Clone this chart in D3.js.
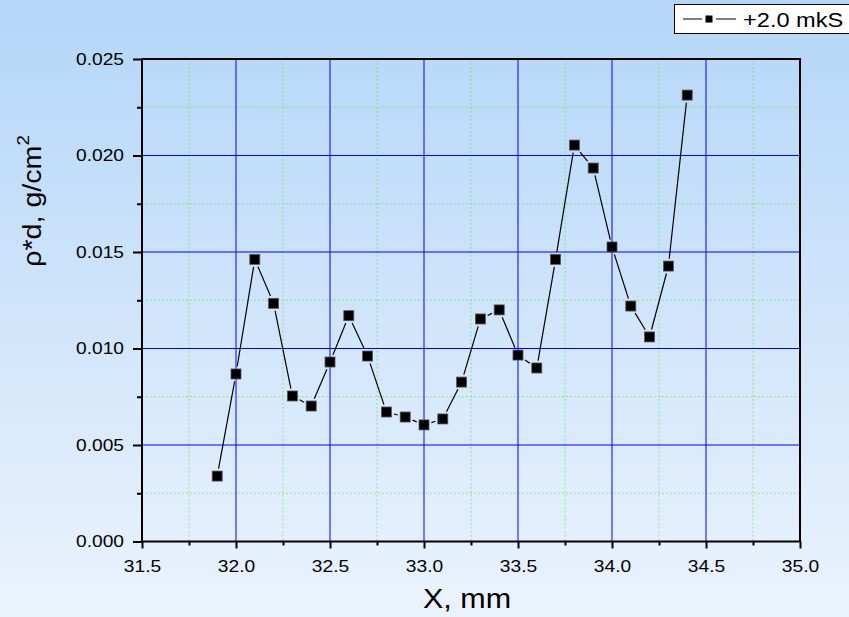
<!DOCTYPE html>
<html><head><meta charset="utf-8">
<script src="https://cdn.jsdelivr.net/npm/d3@7"></script>
<style>body{margin:0;}svg{display:block;font-family:Arial,"Liberation Sans",sans-serif;}</style>
</head><body>
<svg id="c" width="849" height="617"></svg>
<script>
const xValues = [31.9,32.0,32.1,32.2,32.3,32.4,32.5,32.6,32.7,32.8,32.9,33.0,33.1,33.2,33.3,33.4,33.5,33.6,33.7,33.8,33.9,34.0,34.1,34.2,34.3,34.4];
const yValues = [0.00339,0.00868,0.01462,0.01234,0.00754,0.00702,0.0093,0.01170,0.00961,0.00671,0.00645,0.00604,0.00635,0.00826,0.01153,0.0120,0.00966,0.00899,0.01462,0.02054,0.01935,0.01526,0.0122,0.0106,0.01427,0.02313];
const xTicks = [31.5,32.0,32.5,33.0,33.5,34.0,34.5,35.0];
const yTicks = [0.000,0.005,0.010,0.015,0.020,0.025];
const seriesName = "+2.0 mkS";

const svg = d3.select("#c");
const W = 849, H = 617;
const SX = 1.13; // horizontal text stretch seen in reference
const defs = svg.append("defs");
const g = defs.append("linearGradient").attr("id","bg").attr("x1",0).attr("y1",0).attr("x2",0).attr("y2",1);
g.append("stop").attr("offset","0%").attr("stop-color","#b4d6f8");
g.append("stop").attr("offset","100%").attr("stop-color","#ebf3fd");
svg.append("rect").attr("width",W).attr("height",H).attr("fill","url(#bg)");

const L=142, R=800, T=59, B=541.5;
const x = d3.scaleLinear().domain([31.5,35.0]).range([L,R]);
const y = d3.scaleLinear().domain([0,0.025]).range([B,T]);

// minor grid
const xMinor = d3.range(0,7).map(i=>31.75+0.5*i);
const yMinor = d3.range(0,5).map(i=>0.0025+0.005*i);
svg.append("g").selectAll("line").data(xMinor).join("line")
  .attr("x1",d=>x(d)).attr("x2",d=>x(d)).attr("y1",T).attr("y2",B)
  .attr("stroke","#77e077").attr("stroke-width",1).attr("stroke-dasharray","1.5,2.5");
svg.append("g").selectAll("line").data(yMinor).join("line")
  .attr("y1",d=>y(d)).attr("y2",d=>y(d)).attr("x1",L).attr("x2",R)
  .attr("stroke","#77e077").attr("stroke-width",1).attr("stroke-dasharray","1.5,2.5");
// major grid
svg.append("g").selectAll("line").data(xTicks.slice(1,-1)).join("line")
  .attr("x1",d=>x(d)).attr("x2",d=>x(d)).attr("y1",T).attr("y2",B)
  .attr("stroke","#0000ff").attr("stroke-width",1);
svg.append("g").selectAll("line").data(yTicks.slice(1,-1)).join("line")
  .attr("y1",d=>y(d)).attr("y2",d=>y(d)).attr("x1",L).attr("x2",R)
  .attr("stroke","#0000ff").attr("stroke-width",1);

// axes
const xAxis = d3.axisBottom(x).tickValues(xTicks).tickFormat(d3.format(".1f")).tickSize(7).tickPadding(11);
const xAxisMinor = d3.axisBottom(x).tickValues(xMinor).tickFormat("").tickSize(4);
const yAxis = d3.axisLeft(y).tickValues(yTicks).tickFormat(d3.format(".3f")).tickSize(9).tickPadding(8);
const yAxisMinor = d3.axisLeft(y).tickValues(yMinor).tickFormat("").tickSize(5);
function style(sel){
  sel.select(".domain").remove();
  sel.selectAll("line").attr("stroke","#000").attr("stroke-width",2);
  sel.selectAll("text").attr("fill","#000").style("font-size","17px").style("font-family","Arial, 'Liberation Sans', sans-serif");
}
const gx = svg.append("g").attr("transform",`translate(0,${B})`).call(xAxis).call(style);
gx.selectAll("text").attr("transform",`scale(${SX},1)`);
svg.append("g").attr("transform",`translate(0,${B})`).call(xAxisMinor).call(style);
const gy = svg.append("g").attr("transform",`translate(${L},0)`).call(yAxis).call(style);
gy.selectAll("text").attr("x",0).attr("transform",`translate(-18,0) scale(${SX},1)`);
svg.append("g").attr("transform",`translate(${L},0)`).call(yAxisMinor).call(style);
svg.append("rect").attr("x",L).attr("y",T).attr("width",R-L).attr("height",B-T)
  .attr("fill","none").attr("stroke","#000").attr("stroke-width",2);

// data line with gaps
const pts = xValues.map((v,i)=>[x(v), y(yValues[i])]);
const half = 5, gap = 2.5;
function clipDist(dx,dy){
  const len = Math.hypot(dx,dy);
  const ux = Math.abs(dx)/len, uy = Math.abs(dy)/len;
  return Math.min(ux>0?half/ux:1e9, uy>0?half/uy:1e9) + gap;
}
const segs = [];
for(let i=0;i<pts.length-1;i++){
  const [x1,y1]=pts[i],[x2,y2]=pts[i+1];
  const dx=x2-x1, dy=y2-y1, len=Math.hypot(dx,dy);
  const c = clipDist(dx,dy);
  if(len>2*c) segs.push([x1+dx/len*c, y1+dy/len*c, x2-dx/len*c, y2-dy/len*c]);
}
svg.append("g").selectAll("line").data(segs).join("line")
  .attr("x1",d=>d[0]).attr("y1",d=>d[1]).attr("x2",d=>d[2]).attr("y2",d=>d[3])
  .attr("stroke","#000").attr("stroke-width",1.2);
svg.append("g").selectAll("rect").data(xValues).join("rect")
  .attr("x",(d,i)=>x(d)-half).attr("y",(d,i)=>y(yValues[i])-half)
  .attr("width",2*half).attr("height",2*half)
  .attr("fill","#000").attr("stroke","#555").attr("stroke-width",0.8);

// axis titles
svg.append("text").attr("transform",`translate(${(L+R)/2-4},608) scale(1.09,1)`).attr("text-anchor","middle")
  .style("font-size","28px").attr("fill","#000").text("X, mm");
const yl = svg.append("text").attr("transform","translate(41,201) rotate(-90) scale(1.1,1)").attr("text-anchor","middle")
  .style("font-size","26px").attr("fill","#000");
yl.append("tspan").text("ρ*d, g/cm");
yl.append("tspan").attr("dy",-12).style("font-size","17px").text("2");

// legend
const lg = svg.append("g");
lg.append("rect").attr("x",674.5).attr("y",4.5).attr("width",180).attr("height",29)
  .attr("fill","#fff").attr("stroke","#000").attr("stroke-width",1);
lg.append("line").attr("x1",683).attr("x2",702).attr("y1",19).attr("y2",19).attr("stroke","#000").attr("stroke-width",1);
lg.append("line").attr("x1",716).attr("x2",736).attr("y1",19).attr("y2",19).attr("stroke","#000").attr("stroke-width",1);
lg.append("rect").attr("x",705.5).attr("y",15.5).attr("width",7).attr("height",7).attr("fill","#000");
lg.append("text").attr("transform","translate(743,27) scale(1.18,1)").style("font-size","20px").attr("fill","#000").text(seriesName);
</script>
</body></html>
